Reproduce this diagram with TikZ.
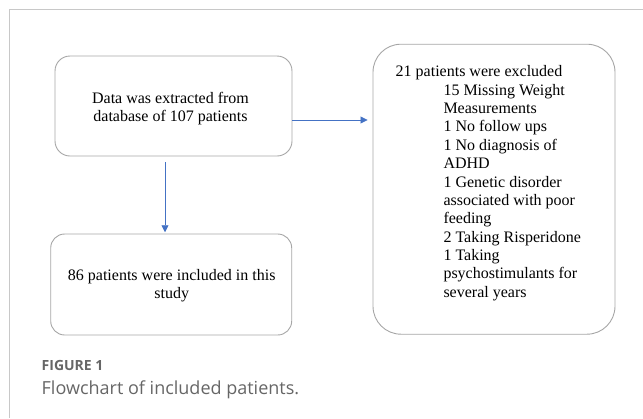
\documentclass[tikz,border=0pt]{standalone}
\usepackage{fontspec}
\setmainfont{Liberation Serif}
\newfontfamily\capfont{Open Sans}
\usetikzlibrary{arrows.meta,calc}
\definecolor{boxgray}{HTML}{A6A6A6}
\definecolor{framegray}{HTML}{C8C8C8}
\definecolor{arrblue}{HTML}{4472C4}
\definecolor{capgray}{HTML}{666666}
\tikzset{
  flowbox/.style={draw=boxgray, line width=0.9pt, rectangle, inner sep=0pt},
  boxtext/.style={inner sep=0pt, align=center, font=\fontsize{16}{18.35}\selectfont},
  listtext/.style={inner sep=0pt, align=left, anchor=north west, font=\fontsize{16}{18.35}\selectfont},
  arr/.style={draw=arrblue, line width=0.8pt, -{Triangle[length=7pt,width=7pt]}},
}
\begin{document}
\begin{tikzpicture}[x=1pt,y=-1pt]
\useasboundingbox (0,0) rectangle (643,418);
% frame
\draw[framegray, line width=0.8pt] (9.3,418) -- (9.3,9.3) -- (643,9.3);
% boxes
\node[flowbox, rounded corners=15pt, minimum width=237pt, minimum height=100pt] (top) at (173.5,106) {};
\node[flowbox, rounded corners=14pt, minimum width=241pt, minimum height=101pt] (bot) at (171.2,284.5) {};
\node[flowbox, rounded corners=28pt, minimum width=242pt, minimum height=290pt] (right) at (494,189.2) {};
% texts
\node[boxtext] (toptext) at (170.5,108.3) {Data was extracted from\\database of 107 patients};
\node[boxtext] (bottext) at (171.7,285.8) {86 patients were included in this\\study};
\node[listtext] (righttext) at (395.5,65.6) {21 patients were excluded\\
\hspace*{47.8pt}15 Missing Weight\\
\hspace*{47.8pt}Measurements\\
\hspace*{47.8pt}1 No follow ups\\
\hspace*{47.8pt}1 No diagnosis of\\
\hspace*{47.8pt}ADHD\\
\hspace*{47.8pt}1 Genetic disorder\\
\hspace*{47.8pt}associated with poor\\
\hspace*{47.8pt}feeding\\
\hspace*{47.8pt}2 Taking Risperidone\\
\hspace*{47.8pt}1 Taking\\
\hspace*{47.8pt}psychostimulants for\\
\hspace*{47.8pt}several years};
% arrows
\coordinate (h1) at ([yshift=-14pt]top.east);
\draw[arr, shorten >=5pt] (h1) -- (h1 -| right.west);
\coordinate (v1) at ([xshift=-8.5pt]top.south);
\draw[arr, shorten <=6pt, shorten >=1.3pt] (v1) -- (v1 |- bot.north);
% caption
\node[anchor=base west, inner sep=0pt, text=capgray, font=\capfont\bfseries\fontsize{14}{16}\selectfont] (fig) at (41.5,370) {FIGURE 1};
\node[anchor=base west, inner sep=0pt, text=capgray, font=\capfont\fontsize{18}{22}\selectfont] (cap) at (41.5,394) {Flowchart of included patients.};
\end{tikzpicture}
\end{document}
